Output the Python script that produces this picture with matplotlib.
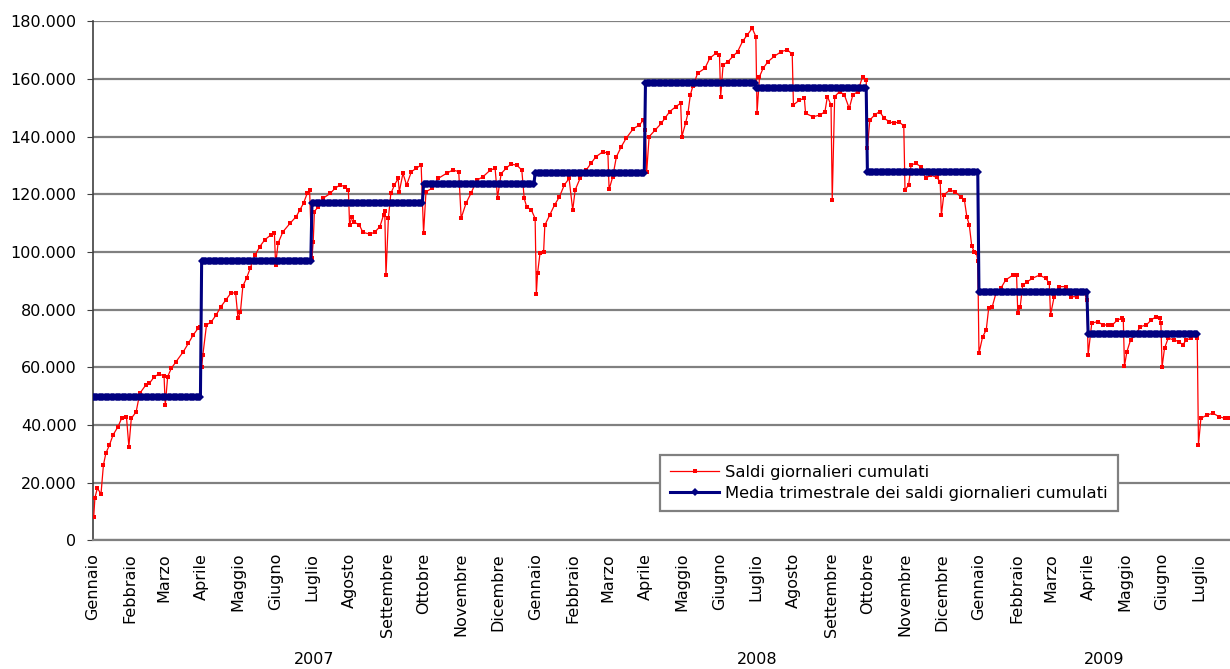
import matplotlib

matplotlib.use("Agg")
import matplotlib.pyplot as plt
import numpy as np
import pandas as pd
from matplotlib.ticker import FuncFormatter, MultipleLocator

START = pd.Timestamp("2007-01-01")
END_DAY = 938  # last day shown on the axis (late July 2009)

MESI = ["Gennaio", "Febbraio", "Marzo", "Aprile", "Maggio", "Giugno",
        "Luglio", "Agosto", "Settembre", "Ottobre", "Novembre", "Dicembre"]
ANNI = ["2007", "2008", "2009"]

# daily cumulative balances: day offset from 1 Jan 2007, value in thousands
saldi_giorno = [
    1, 2, 4, 7, 9, 11, 14, 17, 21, 24, 28, 30, 32, 36, 39, 44, 47, 51, 55, 59,
    60, 62, 65, 69, 75, 79, 83, 87, 89, 90, 91, 94, 98, 102, 106, 110, 114, 118,
    120, 122, 124, 127, 130, 134, 138, 142, 147, 150, 151, 153, 157, 163, 168,
    171, 174, 177, 179, 181, 182, 183, 186, 190, 196, 200, 204, 208, 211, 212,
    214, 216, 220, 223, 229, 233, 237, 240, 241, 242, 244, 246, 249, 252, 253,
    256, 259, 263, 267, 271, 273, 275, 280, 285, 292, 297, 302, 304, 308, 312,
    317, 322, 328, 332, 334, 337, 341, 345, 350, 354, 356, 358, 362, 365, 366,
    367, 369, 372, 373, 377, 381, 385, 389, 393, 396, 398, 402, 407, 411, 415,
    421, 425, 426, 429, 432, 436, 440, 446, 451, 454, 456, 457, 459, 464, 469,
    472, 476, 481, 485, 486, 489, 491, 493, 495, 499, 505, 509, 514, 517, 518,
    520, 524, 528, 532, 536, 540, 544, 547, 548, 550, 553, 557, 562, 568, 573,
    577, 578, 583, 587, 588, 594, 600, 604, 606, 609, 610, 612, 616, 620, 624,
    627, 631, 635, 638, 639, 641, 645, 649, 653, 657, 661, 665, 669, 670, 673,
    675, 679, 683, 687, 691, 696, 699, 700, 702, 707, 711, 716, 719, 721, 723,
    725, 727, 729, 730, 731, 734, 737, 739, 742, 745, 749, 753, 759, 762, 763,
    765, 767, 771, 775, 781, 786, 789, 790, 793, 797, 803, 807, 812, 816, 818,
    820, 821, 824, 829, 833, 837, 841, 845, 849, 850, 851, 853, 856, 860, 864,
    869, 873, 877, 880, 881, 882, 884, 887, 892, 896, 899, 902, 906, 910, 911,
    912, 914, 919, 924, 929, 934, 937,
]
saldi_valore = [
    8.2, 14.8, 18.1, 16.1, 26.1, 30.2, 33.1, 36.6, 39.4, 42.3, 42.9, 32.5, 42.3,
    44.6, 51.0, 53.9, 54.5, 56.8, 57.7, 57.0, 46.9, 56.8, 59.7, 62.0, 65.5, 68.3,
    71.2, 73.5, 74.1, 60.2, 64.3, 74.7, 75.8, 78.2, 81.1, 83.4, 85.7, 85.9, 77.0,
    79.3, 88.2, 90.9, 94.3, 98.9, 101.9, 104.2, 105.9, 106.5, 95.5, 103.0, 107.0,
    110.0, 112.3, 114.6, 116.9, 120.3, 121.5, 98.0, 103.6, 114.0, 115.7, 118.6,
    120.3, 122.1, 123.2, 122.7, 121.5, 109.4, 112.3, 110.3, 109.4, 106.8, 106.2,
    107.0, 108.8, 112.8, 114.2, 92.0, 111.7, 120.3, 123.2, 125.5, 120.9, 127.3,
    123.2, 127.9, 129.0, 130.2, 106.5, 120.9, 122.1, 125.5, 127.3, 128.4, 127.9,
    111.7, 116.9, 120.3, 124.9, 126.1, 128.4, 129.0, 118.9, 127.2, 129.0, 130.5,
    130.1, 128.4, 118.6, 115.7, 114.5, 111.6, 85.6, 92.6, 99.5, 100.1, 109.3,
    112.8, 116.3, 119.1, 123.2, 125.5, 114.5, 121.5, 125.5, 128.4, 130.7, 133.0,
    134.8, 134.2, 121.7, 126.1, 133.0, 136.5, 139.4, 142.8, 144.0, 145.7, 142.3,
    127.8, 140.0, 142.3, 144.6, 146.4, 148.7, 150.4, 151.6, 140.0, 144.6, 148.1,
    154.5, 157.4, 162.0, 163.7, 167.2, 168.9, 168.3, 153.9, 164.9, 166.0, 167.8,
    169.5, 173.0, 175.3, 177.6, 174.7, 148.3, 160.8, 163.7, 166.0, 167.8, 169.5,
    170.1, 168.6, 151.0, 152.7, 153.3, 148.1, 146.9, 147.5, 148.7, 153.9, 151.0,
    118.0, 153.9, 155.6, 154.5, 149.8, 154.5, 155.6, 160.8, 159.7, 136.0, 145.8,
    147.5, 148.7, 146.3, 145.2, 144.6, 145.2, 143.7, 121.5, 123.2, 130.2, 130.7,
    129.6, 125.5, 126.7, 125.9, 124.4, 112.8, 119.8, 121.5, 120.9, 119.2, 118.0,
    112.2, 109.4, 102.2, 100.1, 99.5, 97.0, 64.9, 70.6, 73.0, 80.5, 81.1, 85.7,
    87.4, 90.3, 92.0, 92.0, 79.0, 81.0, 88.5, 89.7, 90.9, 92.0, 90.9, 89.1, 78.2,
    84.5, 88.0, 88.0, 84.5, 84.5, 86.2, 85.7, 83.4, 64.3, 75.3, 75.9, 74.7, 74.7,
    74.7, 76.4, 77.0, 76.4, 60.5, 65.5, 69.5, 71.2, 74.1, 74.7, 76.4, 77.6, 77.0,
    75.3, 60.2, 66.6, 70.1, 69.5, 68.9, 67.8, 69.5, 70.1, 71.2, 70.1, 33.1, 42.3,
    43.5, 44.1, 42.9, 42.3, 42.3,
]

# quarterly mean of the cumulative balances (thousands), Q1 2007 .. Q2 2009
trimestri = ["2007Q1", "2007Q2", "2007Q3", "2007Q4", "2008Q1",
             "2008Q2", "2008Q3", "2008Q4", "2009Q1", "2009Q2"]
media_trim = [49.6, 96.8, 117.0, 123.5, 127.5, 158.7, 156.8, 127.8, 86.0, 71.7]


def main() -> None:
    fig = plt.figure(figsize=(12.3, 6.69), dpi=100)
    W, H = 1230, 669
    x0, x1, y0, y1 = 92.5, 1230, 540.4, 21.3
    ax = fig.add_axes([x0 / W, 1 - y0 / H, (x1 - x0) / W, (y0 - y1) / H])

    # quarterly mean repeated on every day of its quarter
    q_start = pd.PeriodIndex(trimestri, freq="Q").start_time
    q_end = pd.PeriodIndex(trimestri, freq="Q").end_time.normalize()
    bx, by = [], []
    for s, e, v in zip(q_start, q_end, media_trim):
        d = np.arange((s - START).days, (e - START).days + 1)
        bx.extend(d)
        by.extend([v * 1000] * len(d))

    ax.plot(np.array(saldi_giorno), np.array(saldi_valore) * 1000, color="#FF0000",
            lw=0.9, marker="s", ms=3.5, mew=0, zorder=3,
            label="Saldi giornalieri cumulati")
    ax.plot(bx, by, color="#000080", lw=2.2, marker="D", ms=4.4, mew=0,
            zorder=4, label="Media trimestrale dei saldi giornalieri cumulati")

    ax.set_xlim(0, END_DAY)
    ax.set_ylim(0, 180000)
    ax.yaxis.set_major_locator(MultipleLocator(20000))
    ax.yaxis.set_major_formatter(
        FuncFormatter(lambda v, _: f"{int(v):,}".replace(",", ".")))
    ax.grid(axis="y", color="#808080", lw=1.6)
    ax.set_axisbelow(True)
    for side in ("top", "right"):
        ax.spines[side].set_visible(False)
    ax.spines["left"].set_color("#404040")
    ax.spines["left"].set_linewidth(1.2)
    ax.spines["bottom"].set_color("#808080")
    ax.spines["bottom"].set_linewidth(1.6)
    ax.tick_params(axis="y", length=4.5, color="#404040", labelsize=11.5, pad=7)

    months = pd.date_range(START, "2009-07-01", freq="MS")
    ax.set_xticks([(m - START).days for m in months])
    ax.set_xticklabels([MESI[m.month - 1] for m in months], rotation=90,
                       fontsize=11.5)
    ax.tick_params(axis="x", length=0, pad=9)

    for anno in ANNI:
        a = (pd.Timestamp(f"{anno}-01-01") - START).days
        b = min((pd.Timestamp(f"{int(anno) + 1}-01-01") - START).days, END_DAY)
        ax.text((a + b) / 2, -(660 - y0) / (y0 - y1), anno,
                transform=ax.get_xaxis_transform(),
                ha="center", va="center", fontsize=11.5)

    leg = ax.legend(loc="upper left", bbox_to_anchor=(660 / W, 1 - 455 / H),
                    bbox_transform=fig.transFigure, fontsize=11.8, frameon=True,
                    fancybox=False, framealpha=1, edgecolor="#808080",
                    borderaxespad=0, handlelength=3.0, labelspacing=0.33,
                    borderpad=0.62, handletextpad=0.35)
    leg.get_frame().set_linewidth(1.6)
    leg.set_zorder(10)

    fig.savefig("out.png", dpi=100)
    plt.close(fig)


if __name__ == "__main__":
    main()
